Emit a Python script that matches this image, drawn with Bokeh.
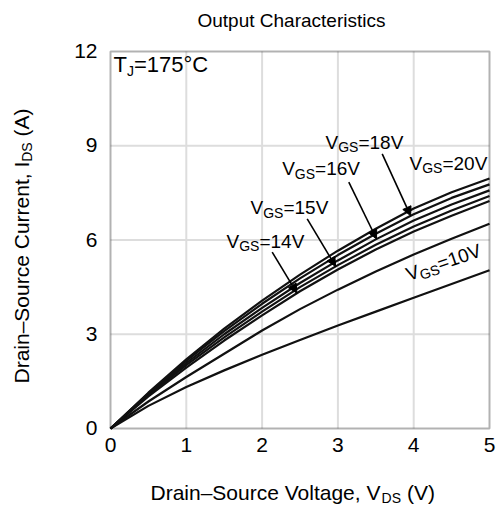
import math
from bokeh.plotting import figure
from bokeh.models import Label, Arrow, NormalHead, Range1d, BoxAnnotation
from bokeh.embed import file_html
from bokeh.resources import INLINE

# ---- data ----
vds = [0, 0.5, 1, 1.5, 2, 2.5, 3, 3.5, 4, 4.5, 5]
i_vgs20 = [0, 1.14, 2.20, 3.18, 4.07, 4.90, 5.66, 6.36, 7.00, 7.52, 7.96]
i_vgs18 = [0, 1.12, 2.15, 3.10, 3.97, 4.78, 5.52, 6.20, 6.82, 7.34, 7.77]
i_vgs16 = [0, 1.09, 2.08, 3.00, 3.84, 4.63, 5.35, 6.02, 6.62, 7.13, 7.58]
i_vgs15 = [0, 1.06, 2.02, 2.90, 3.72, 4.50, 5.20, 5.85, 6.43, 6.94, 7.40]
i_vgs14 = [0, 1.02, 1.94, 2.80, 3.60, 4.37, 5.06, 5.70, 6.27, 6.77, 7.24]
i_vgs12 = [0, 0.86, 1.64, 2.38, 3.12, 3.80, 4.42, 5.00, 5.54, 6.04, 6.52]
i_vgs10 = [0, 0.72, 1.32, 1.85, 2.35, 2.82, 3.28, 3.72, 4.16, 4.60, 5.04]
x_ticks = [0, 1, 2, 3, 4, 5]
y_ticks = [0, 3, 6, 9, 12]
x_tick_labels = ["0", "1", "2", "3", "4", "5"]
y_tick_labels = ["0", "3", "6", "9", "12"]

# ---- layout (pixels, picture coordinates) ----
WIDTH, HEIGHT = 497, 506
PLOT_LEFT, PLOT_RIGHT, PLOT_TOP, PLOT_BOTTOM = 110, 489, 51, 428
XMIN, XMAX, YMIN, YMAX = 0, 5, 0, 12
sx = (PLOT_RIGHT - PLOT_LEFT) / (XMAX - XMIN)
sy = (PLOT_BOTTOM - PLOT_TOP) / (YMAX - YMIN)


def dx(px):
    return XMIN + (px - PLOT_LEFT) / sx


def dy(py):
    return YMIN + (PLOT_BOTTOM - py) / sy


x_range = Range1d(dx(0), dx(WIDTH))
y_range = Range1d(dy(HEIGHT), dy(0))

FONT = "Liberation Sans"
# Label anchors render near the middle of the text box; this lifts them so the
# given point is the alphabetic baseline.
BASELINE_FIX = 0.3465
W = {'V': 667, 'G': 778, 'S': 667, '=': 584, 'T': 611, 'J': 500, '°': 400, 'C': 722,
     'D': 722, 'r': 333, 'a': 556, 'i': 222, 'n': 556, '–': 556, '-': 333, 'o': 556,
     'u': 556, 'c': 500, 'e': 556, ' ': 278, 'l': 222, 't': 278, 'g': 556, ',': 278,
     '(': 333, ')': 333, 'A': 667, 'I': 278, 'h': 556, 's': 500, 'p': 556, 'O': 778}


def tw(s, size):
    return sum(W.get(ch, 556) for ch in s) / 1000.0 * size


p = figure(width=WIDTH, height=HEIGHT, x_range=x_range, y_range=y_range,
           output_backend="svg", toolbar_location=None,
           x_axis_type=None, y_axis_type=None, min_border=0)
p.background_fill_color = "white"
p.border_fill_color = "white"
p.outline_line_color = None

# grid lines inside the plot area
inner_x = x_ticks[1:-1]
inner_y = y_ticks[1:-1]
p.segment(x0=inner_x, y0=[YMIN] * len(inner_x), x1=inner_x, y1=[YMAX] * len(inner_x),
          line_color="#dddddd", line_width=2)
p.segment(x0=[XMIN] * len(inner_y), y0=inner_y, x1=[XMAX] * len(inner_y), y1=inner_y,
          line_color="#dddddd", line_width=2)

series = [i_vgs10, i_vgs12, i_vgs14, i_vgs15, i_vgs16, i_vgs18, i_vgs20]
for s in series:
    p.line(vds, s, line_color="#111111", line_width=2.2)

p.add_layout(BoxAnnotation(left=XMIN, right=XMAX, bottom=YMIN, top=YMAX,
                           fill_color=None, fill_alpha=0, line_color="black",
                           line_width=2))


def interp(xv, xs, ys):
    for k in range(len(xs) - 1):
        if xs[k] <= xv <= xs[k + 1]:
            t = (xv - xs[k]) / (xs[k + 1] - xs[k])
            return ys[k] + t * (ys[k + 1] - ys[k])
    return ys[-1]


def label(x, y, txt, size, xo=0.0, yo=0.0, angle=0.0, align="left"):
    c = BASELINE_FIX * size
    xo = xo - c * math.sin(angle)
    yo = yo + c * math.cos(angle)
    p.add_layout(Label(x=x, y=y, x_offset=xo, y_offset=yo, text=txt, angle=angle,
                       text_font=FONT, text_font_size=f"{size}px",
                       text_baseline="alphabetic", text_align=align,
                       text_color="black"))


def rich(x, y, parts, angle=0.0):
    w = 0.0
    ca, sa = math.cos(angle), math.sin(angle)
    for txt, size, shift in parts:
        while txt.startswith(" "):
            w += tw(" ", size)
            txt = txt[1:]
        label(x, y, txt, size, w * ca + shift * sa, w * sa - shift * ca, angle)
        w += tw(txt, size)


def vgs_label(x, y, v, angle=0.0):
    rich(x, y, [("V", 19, 0), ("GS", 14, 3), (f"={v}V", 19, 0)], angle)


# tick labels
for xt, lab in zip(x_ticks, x_tick_labels):
    label(xt, YMIN, lab, 21, 0, -24, align="center")
for yt, lab in zip(y_ticks, y_tick_labels):
    label(XMIN, yt, lab, 21, -13, -7, align="right")

# annotations
rich(dx(113), dy(71.7), [("T", 22, 0), ("J", 14, 4), ("=175°C", 22, 0)])
vgs_label(dx(325), dy(148.3), 18)
vgs_label(dx(281.7), dy(175), 16)
vgs_label(dx(250), dy(214), 15)
vgs_label(dx(226), dy(247.3), 14)
vgs_label(dx(409), dy(169.3), 20)
vgs_label(dx(408.3), dy(280.7), 10, angle=0.33)

arrows = [((dx(381.7), dy(153.3)), 3.96, i_vgs18),
          ((dx(348.3), dy(181.7)), 3.51, i_vgs16),
          ((dx(306.7), dy(218.3)), 2.97, i_vgs15),
          ((dx(271.7), dy(251.7)), 2.46, i_vgs14)]
for (ax0, ay0), tx, ser in arrows:
    ty = interp(tx, vds, ser)
    p.add_layout(Arrow(x_start=ax0, y_start=ay0, x_end=tx, y_end=ty, line_width=1.6,
                       line_color="black",
                       end=NormalHead(size=9, fill_color="black", line_color="black",
                                      line_width=1)))

# title and axis labels
label(dx(197), dy(27), "Output Characteristics", 19)
rich(dx(150), dy(499), [("Drain–Source Voltage, V", 21, 0), ("DS", 14, 3), (" (V)", 21, 0)])
rich(dx(28), dy(383), [("Drain–Source Current, I", 21, 0), ("DS", 14, 3), (" (A)", 21, 0)],
     angle=math.pi / 2)

open("out.html", "w").write(file_html(p, INLINE))
